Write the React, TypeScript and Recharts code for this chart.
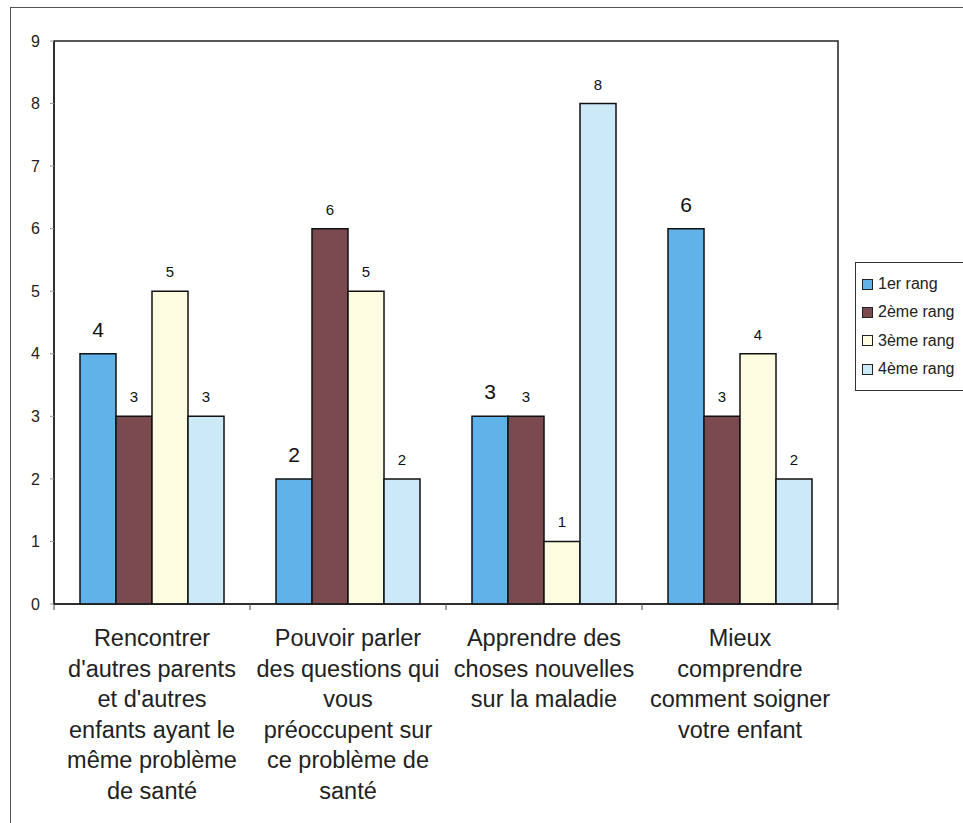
import React from "react";
import { Bar, BarChart, LabelList, ReferenceArea, XAxis, YAxis } from "recharts";

const categories = [
  "Rencontrer\nd'autres parents\net d'autres\nenfants ayant le\nmême problème\nde santé",
  "Pouvoir parler\ndes questions qui\nvous\npréoccupent sur\nce problème de\nsanté",
  "Apprendre des\nchoses nouvelles\nsur la maladie",
  "Mieux\ncomprendre\ncomment soigner\nvotre enfant",
];
const rang1 = [4, 2, 3, 6];
const rang2 = [3, 6, 3, 3];
const rang3 = [5, 5, 1, 4];
const rang4 = [3, 2, 8, 2];
const yTicks = [0, 1, 2, 3, 4, 5, 6, 7, 8, 9];
const seriesNames = ["1er rang", "2ème rang", "3ème rang", "4ème rang"];
const seriesColors = ["#62b2ea", "#7b4a50", "#fcfce0", "#cce9f8"];

const data = categories.map((name, i) => ({
  name,
  r1: rang1[i],
  r2: rang2[i],
  r3: rang3[i],
  r4: rang4[i],
}));

const FONT = "'Liberation Sans', Arial, sans-serif";

function CategoryTick(props: any) {
  const { x, y, payload, index } = props;
  const half = payload?.offset || 98;
  const lines = String(payload.value).split("\n");
  return (
    <g>
      <line x1={x - half} y1={y} x2={x - half} y2={y + 6} stroke="#444" />
      {index === categories.length - 1 && (
        <line x1={x + half} y1={y} x2={x + half} y2={y + 6} stroke="#444" />
      )}
      <text x={x} y={y + 42} textAnchor="middle" fontSize={23.5} fill="#222" fontFamily={FONT}>
        {lines.map((l, i) => (
          <tspan key={i} x={x} dy={i === 0 ? 0 : 30.5}>
            {l}
          </tspan>
        ))}
      </text>
    </g>
  );
}

function LegendBox() {
  return (
    <div
      style={{
        position: "absolute",
        left: 855,
        top: 262,
        width: 140,
        border: "1px solid #333",
        background: "#fff",
        padding: "7px 0 7px 6px",
        fontFamily: FONT,
        fontSize: 16,
        color: "#222",
      }}
    >
      {seriesNames.map((n, i) => (
        <div key={n} style={{ display: "flex", alignItems: "center", height: 28.3 }}>
          <span
            style={{
              display: "inline-block",
              width: 9,
              height: 9,
              border: "1px solid #222",
              background: seriesColors[i],
              marginRight: 5,
            }}
          />
          {n}
        </div>
      ))}
    </div>
  );
}

export default function App() {
  return (
    <div
      style={{
        position: "absolute",
        left: 0,
        top: 0,
        width: 963,
        height: 823,
        overflow: "hidden",
        background: "#fff",
      }}
    >
      <div
        style={{
          position: "absolute",
          left: 10,
          top: 7,
          width: 1200,
          height: 1200,
          borderLeft: "1px solid #555",
          borderTop: "1px solid #555",
        }}
      />
      <BarChart
        width={963}
        height={823}
        data={data}
        margin={{ top: 41, right: 125, bottom: 0, left: 0 }}
        barCategoryGap={26}
        barGap={0}
      >
        <ReferenceArea y1={0} y2={9} fill="none" stroke="#222" strokeWidth={1.5} />
        <XAxis
          dataKey="name"
          height={219}
          interval={0}
          tickSize={0}
          tickMargin={0}
          axisLine={{ stroke: "#222", strokeWidth: 1.5 }}
          tickLine={false}
          tick={<CategoryTick />}
        />
        <YAxis
          width={54}
          domain={[0, 9]}
          ticks={yTicks}
          interval={0}
          tickSize={4}
          tickMargin={10}
          axisLine={{ stroke: "#222", strokeWidth: 1.5 }}
          tickLine={{ stroke: "#999" }}
          tick={{ fontSize: 16, fill: "#222", fontFamily: FONT }}
        />
        <Bar dataKey="r1" name={seriesNames[0]} fill={seriesColors[0]} stroke="#111" strokeWidth={1.5} isAnimationActive={false}>
          <LabelList dataKey="r1" position="top" offset={17} fontSize={21} fill="#111" fontFamily={FONT} />
        </Bar>
        <Bar dataKey="r2" name={seriesNames[1]} fill={seriesColors[1]} stroke="#111" strokeWidth={1.5} isAnimationActive={false}>
          <LabelList dataKey="r2" position="top" offset={14} fontSize={15} fill="#111" fontFamily={FONT} />
        </Bar>
        <Bar dataKey="r3" name={seriesNames[2]} fill={seriesColors[2]} stroke="#111" strokeWidth={1.5} isAnimationActive={false}>
          <LabelList dataKey="r3" position="top" offset={14} fontSize={15} fill="#111" fontFamily={FONT} />
        </Bar>
        <Bar dataKey="r4" name={seriesNames[3]} fill={seriesColors[3]} stroke="#111" strokeWidth={1.5} isAnimationActive={false}>
          <LabelList dataKey="r4" position="top" offset={14} fontSize={15} fill="#111" fontFamily={FONT} />
        </Bar>
      </BarChart>
      <LegendBox />
    </div>
  );
}
